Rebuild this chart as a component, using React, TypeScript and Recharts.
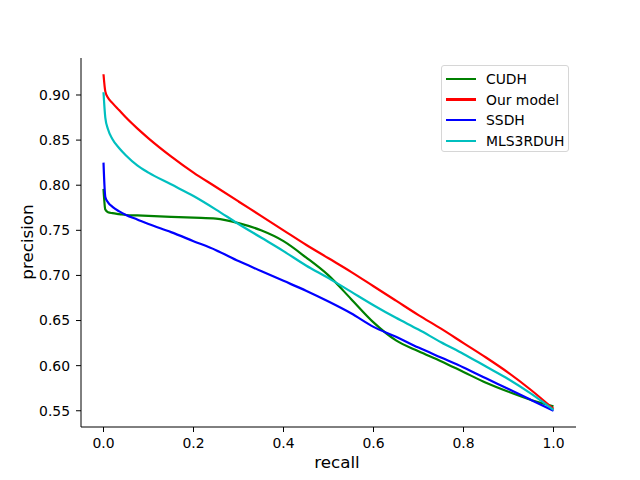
import { Line, LineChart, XAxis, YAxis } from "recharts";

const recall = [0, 0.004, 0.01, 0.02, 0.035, 0.05, 0.075, 0.1, 0.15, 0.2, 0.25, 0.3, 0.35, 0.4, 0.45, 0.5, 0.55, 0.6, 0.65, 0.7, 0.75, 0.8, 0.85, 0.9, 0.95, 1.0];

const cudh = [0.796, 0.773, 0.77, 0.769, 0.768, 0.767, 0.7665, 0.766, 0.765, 0.764, 0.763, 0.758, 0.75, 0.738, 0.72, 0.7, 0.674, 0.648, 0.628, 0.616, 0.605, 0.593, 0.581, 0.571, 0.562, 0.555];
const ourModel = [0.923, 0.904, 0.897, 0.891, 0.883, 0.875, 0.863, 0.852, 0.832, 0.814, 0.798, 0.782, 0.766, 0.75, 0.734, 0.719, 0.704, 0.688, 0.672, 0.656, 0.641, 0.625, 0.609, 0.592, 0.573, 0.552];
const ssdh = [0.825, 0.787, 0.781, 0.776, 0.771, 0.767, 0.762, 0.757, 0.748, 0.738, 0.728, 0.716, 0.705, 0.694, 0.683, 0.671, 0.658, 0.643, 0.632, 0.62, 0.609, 0.598, 0.586, 0.574, 0.562, 0.55];
const mls3rduh = [0.903, 0.875, 0.862, 0.851, 0.841, 0.833, 0.822, 0.814, 0.801, 0.788, 0.773, 0.757, 0.742, 0.727, 0.711, 0.697, 0.682, 0.667, 0.653, 0.64, 0.626, 0.613, 0.599, 0.585, 0.569, 0.551];

const xTicks = [0, 0.2, 0.4, 0.6, 0.8, 1.0];
const yTicks = [0.55, 0.6, 0.65, 0.7, 0.75, 0.8, 0.85, 0.9];

const series = [
  { key: "cudh", label: "CUDH", color: "#008000" },
  { key: "ourModel", label: "Our model", color: "#ff0000" },
  { key: "ssdh", label: "SSDH", color: "#0000ff" },
  { key: "mls3rduh", label: "MLS3RDUH", color: "#00bfbf" }
] as const;

const data = recall.map((r, i) => ({
  recall: r,
  cudh: cudh[i],
  ourModel: ourModel[i],
  ssdh: ssdh[i],
  mls3rduh: mls3rduh[i]
}));

const font = "'DejaVu Sans', sans-serif";
const tickStyle = { fontSize: 13.9, fill: "#000", fontFamily: font };

export default function App() {
  return (
    <div style={{ position: "absolute", left: 0, top: 0, width: 640, height: 480, background: "#fff", fontFamily: font }}>
      <LineChart width={640} height={480} data={data} margin={{ top: 58, right: 64, bottom: 23, left: 21 }}>
        <XAxis
          dataKey="recall"
          type="number"
          domain={[-0.05, 1.05]}
          ticks={xTicks}
          allowDataOverflow
          tickFormatter={(v: number) => v.toFixed(1)}
          tick={tickStyle}
          tickSize={5}
          tickMargin={6}
          height={30}
          axisLine={{ stroke: "#000", strokeWidth: 1 }}
          tickLine={{ stroke: "#000", strokeWidth: 1 }}
        />
        <YAxis
          type="number"
          domain={[0.532, 0.941]}
          ticks={yTicks}
          allowDataOverflow
          tickFormatter={(v: number) => v.toFixed(2)}
          tick={tickStyle}
          tickSize={5}
          tickMargin={6}
          width={60}
          axisLine={{ stroke: "#000", strokeWidth: 1 }}
          tickLine={{ stroke: "#000", strokeWidth: 1 }}
        />
        {series.map((s) => (
          <Line
            key={s.key}
            type="monotone"
            dataKey={s.key}
            name={s.label}
            stroke={s.color}
            strokeWidth={2.2}
            dot={false}
            activeDot={false}
            isAnimationActive={false}
          />
        ))}
      </LineChart>

      <div style={{ position: "absolute", left: 0, width: 640, top: 452, textAlign: "center", fontSize: 16.7, paddingLeft: 17 }}>
        recall
      </div>
      <div
        style={{
          position: "absolute",
          left: 27,
          top: 242,
          fontSize: 16.7,
          transform: "translate(-50%, -50%) rotate(-90deg)",
          whiteSpace: "nowrap"
        }}
      >
        precision
      </div>

      <div
        style={{
          position: "absolute",
          left: 441,
          top: 65,
          width: 126,
          height: 85,
          border: "1px solid #d6d6d6",
          borderRadius: 3,
          background: "rgba(255,255,255,0.8)",
          boxSizing: "content-box"
        }}
      >
        {series.map((s, i) => (
          <div key={s.key} style={{ position: "absolute", left: 4, top: 3 + i * 20.6, height: 20, display: "flex", alignItems: "center" }}>
            <span style={{ display: "inline-block", width: 30, height: 2.5, background: s.color }} />
            <span style={{ marginLeft: 10, fontSize: 13.9, color: "#000", whiteSpace: "nowrap" }}>{s.label}</span>
          </div>
        ))}
      </div>
    </div>
  );
}
